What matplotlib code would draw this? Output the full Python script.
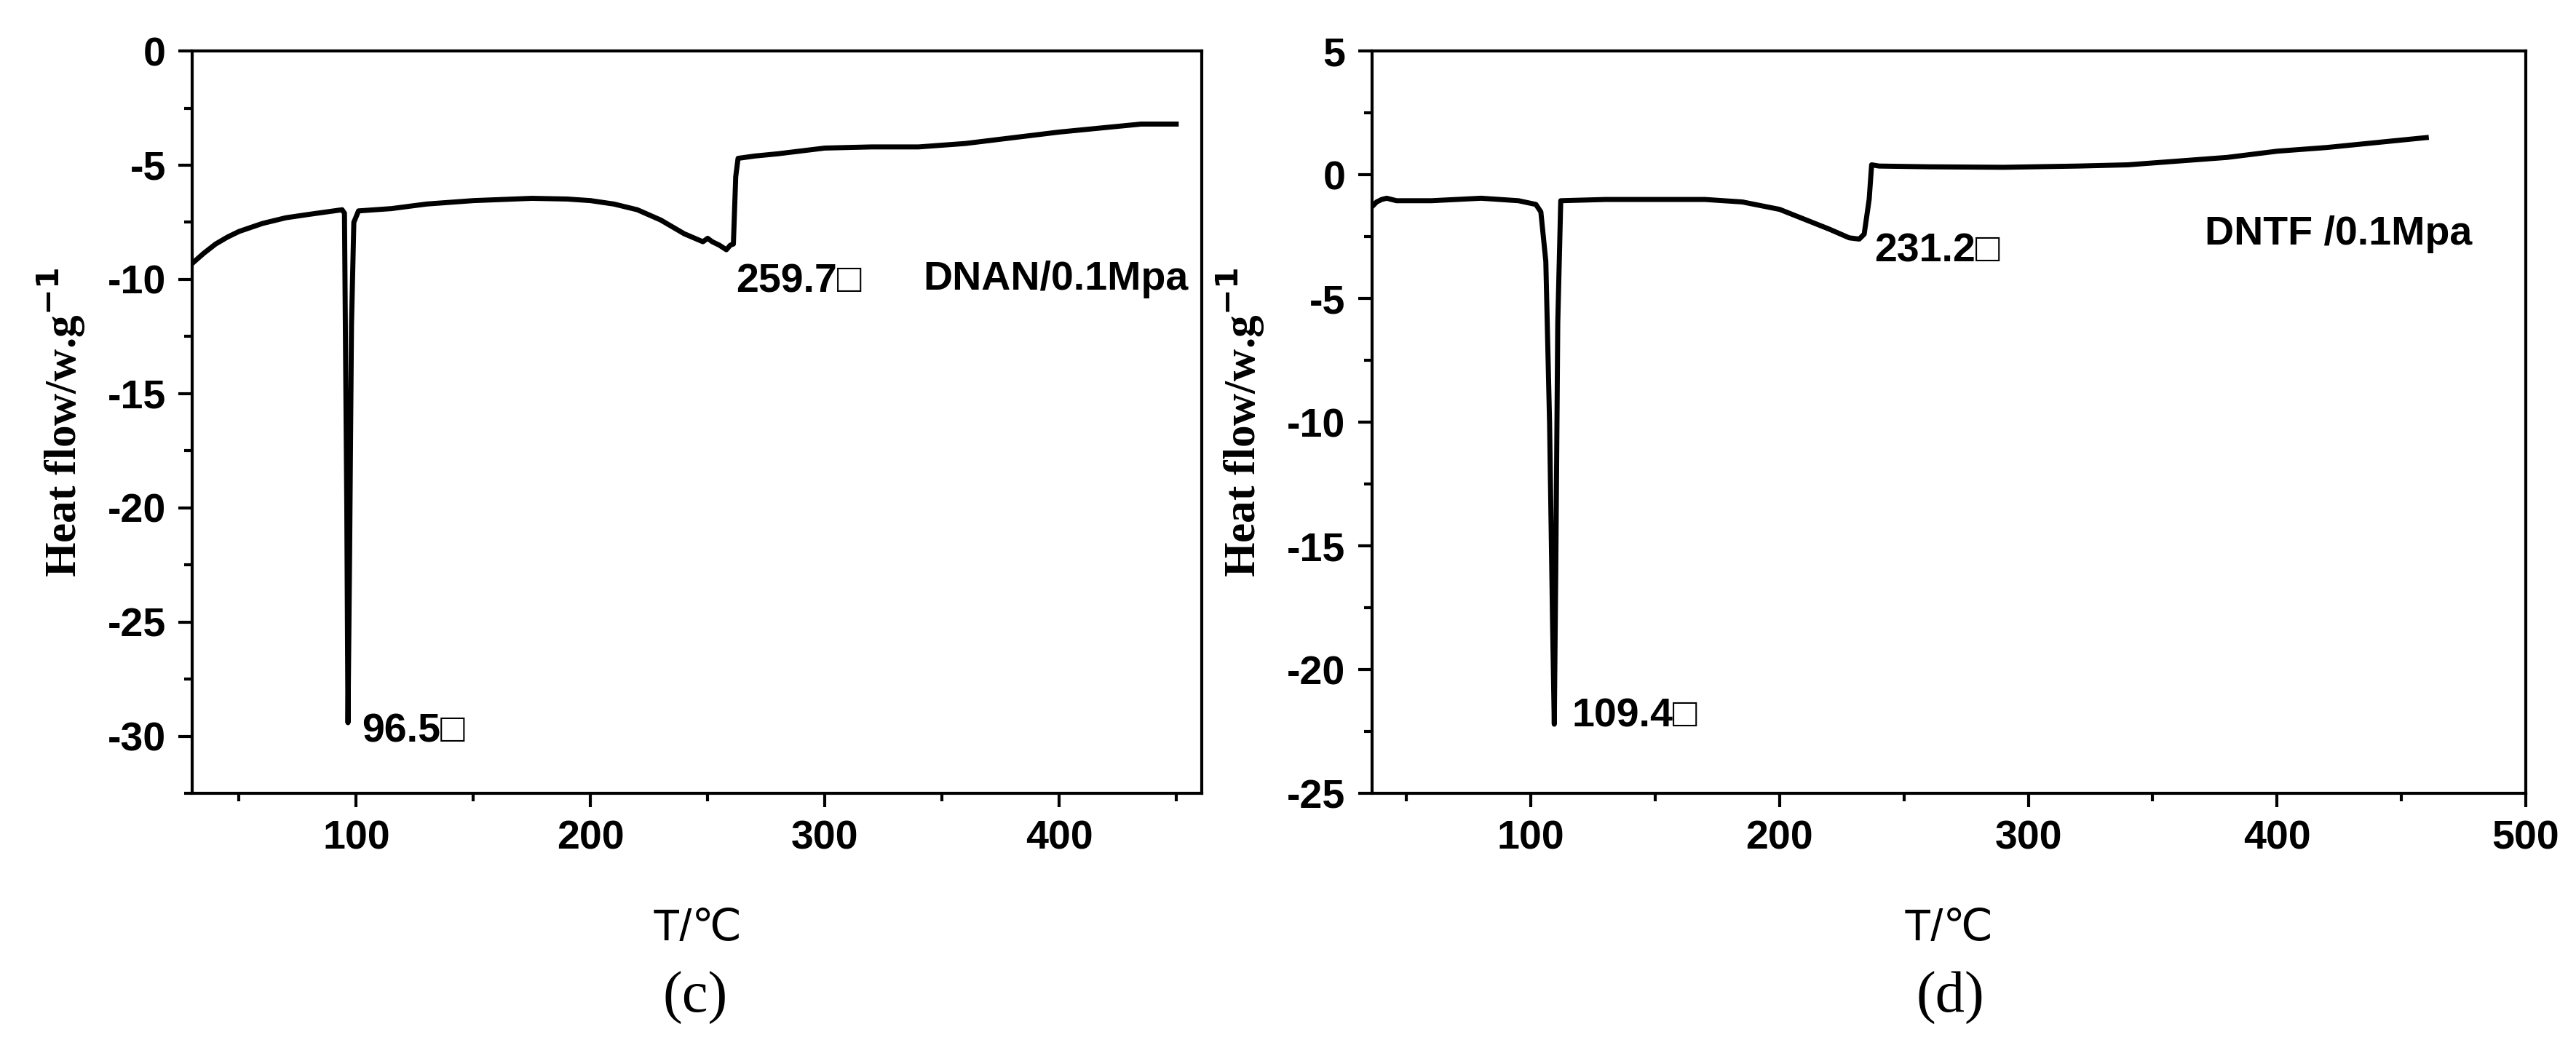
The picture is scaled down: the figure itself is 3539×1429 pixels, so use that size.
import numpy as np
import matplotlib
matplotlib.use("Agg")
import matplotlib.pyplot as plt
from matplotlib.ticker import MultipleLocator

plt.rcParams['axes.unicode_minus'] = False

# panel (c) DNAN
t_c = [30, 35, 40, 45, 50, 60, 70, 80, 94, 95, 96.0, 96.5, 97.2, 98, 99, 101, 115, 130, 150, 175, 190, 200, 210, 220,
       230, 240, 248, 250, 252, 255, 258, 259.7, 261, 262, 263, 270, 280, 300, 320, 340, 360, 380, 400, 420, 435, 450]
hf_c = [-9.3, -8.85, -8.45, -8.15, -7.9, -7.55, -7.3, -7.15, -6.95, -7.1, -20, -29.4, -22, -12, -7.5, -7.0, -6.9,
        -6.7, -6.55, -6.45, -6.48, -6.55, -6.7, -6.95, -7.4, -8.0, -8.35, -8.2, -8.35, -8.5, -8.7, -8.5, -8.45, -5.5,
        -4.7, -4.6, -4.5, -4.25, -4.2, -4.2, -4.05, -3.8, -3.55, -3.35, -3.2, -3.2]

# panel (d) DNTF
t_d = [36, 38, 40, 42, 46, 60, 80, 95, 102, 104, 106, 107.5, 108.7, 109.4, 110, 110.8, 112, 130, 170, 185, 200, 210,
       220, 228, 232, 234, 236, 237, 240, 260, 290, 320, 340, 360, 380, 400, 420, 440, 460]
hf_d = [-1.3, -1.1, -1.0, -0.95, -1.05, -1.05, -0.95, -1.05, -1.2, -1.5, -3.5, -10, -18, -22.2, -16, -6, -1.05, -1.0,
        -1.0, -1.1, -1.4, -1.8, -2.2, -2.55, -2.6, -2.4, -1.0, 0.4, 0.35, 0.32, 0.3, 0.35, 0.4, 0.55, 0.7, 0.95, 1.1,
        1.3, 1.5]

sans = ['Liberation Sans', 'DejaVu Sans']
serif = ['Liberation Serif', 'DejaVu Serif']

fig = plt.figure(figsize=(35.39, 14.29), dpi=100)
ax_c = fig.add_axes([0.0746, 0.237, 0.392, 0.714])
ax_d = fig.add_axes([0.5325, 0.237, 0.448, 0.714])


def style(ax, xlim, ylim, ymajor, xticks):
    ax.set_xlim(*xlim)
    ax.set_ylim(*ylim)
    ax.set_xticks(xticks)
    ax.xaxis.set_minor_locator(MultipleLocator(50))
    ax.yaxis.set_major_locator(MultipleLocator(ymajor))
    ax.yaxis.set_minor_locator(MultipleLocator(ymajor / 2))
    ax.tick_params(which='major', direction='out', length=14, width=3, labelsize=40, pad=12)
    ax.tick_params(which='minor', direction='out', length=8, width=3)
    for lab in ax.get_xticklabels() + ax.get_yticklabels():
        lab.set_family(sans)
        lab.set_fontweight('bold')
    for s in ax.spines.values():
        s.set_linewidth(3)
    ax.set_ylabel('Heat flow/w.g$^{\\mathbf{-1}}$', family=serif, fontweight='bold', fontsize=44, labelpad=20)
    ax.set_xlabel('T/℃', family=sans, fontsize=44, labelpad=50)


ax_c.plot(t_c, hf_c, color='black', lw=5)
style(ax_c, (30, 461), (-32.5, 0), 5, [100, 200, 300, 400])
ax_c.text(262, -10.1, '259.7\u25a1', family=sans, fontweight='bold', fontsize=40, va='center')
ax_c.text(342, -10.0, 'DNAN/0.1Mpa', family=sans, fontweight='bold', fontsize=40, va='center')
ax_c.text(102.5, -29.8, '96.5\u25a1', family=sans, fontweight='bold', fontsize=40, va='center')

ax_d.plot(t_d, hf_d, color='black', lw=5)
style(ax_d, (36, 500), (-25, 5), 5, [100, 200, 300, 400, 500])
ax_d.text(238, -3.1, '231.2\u25a1', family=sans, fontweight='bold', fontsize=40, va='center')
ax_d.text(371, -2.4, 'DNTF /0.1Mpa', family=sans, fontweight='bold', fontsize=40, va='center')
ax_d.text(116.5, -21.9, '109.4\u25a1', family=sans, fontweight='bold', fontsize=40, va='center')

fig.text(0.27, 0.04, '(c)', family=serif, fontsize=58, ha='center', va='center')
fig.text(0.757, 0.04, '(d)', family=serif, fontsize=58, ha='center', va='center')

fig.savefig('out.png', dpi=100)
